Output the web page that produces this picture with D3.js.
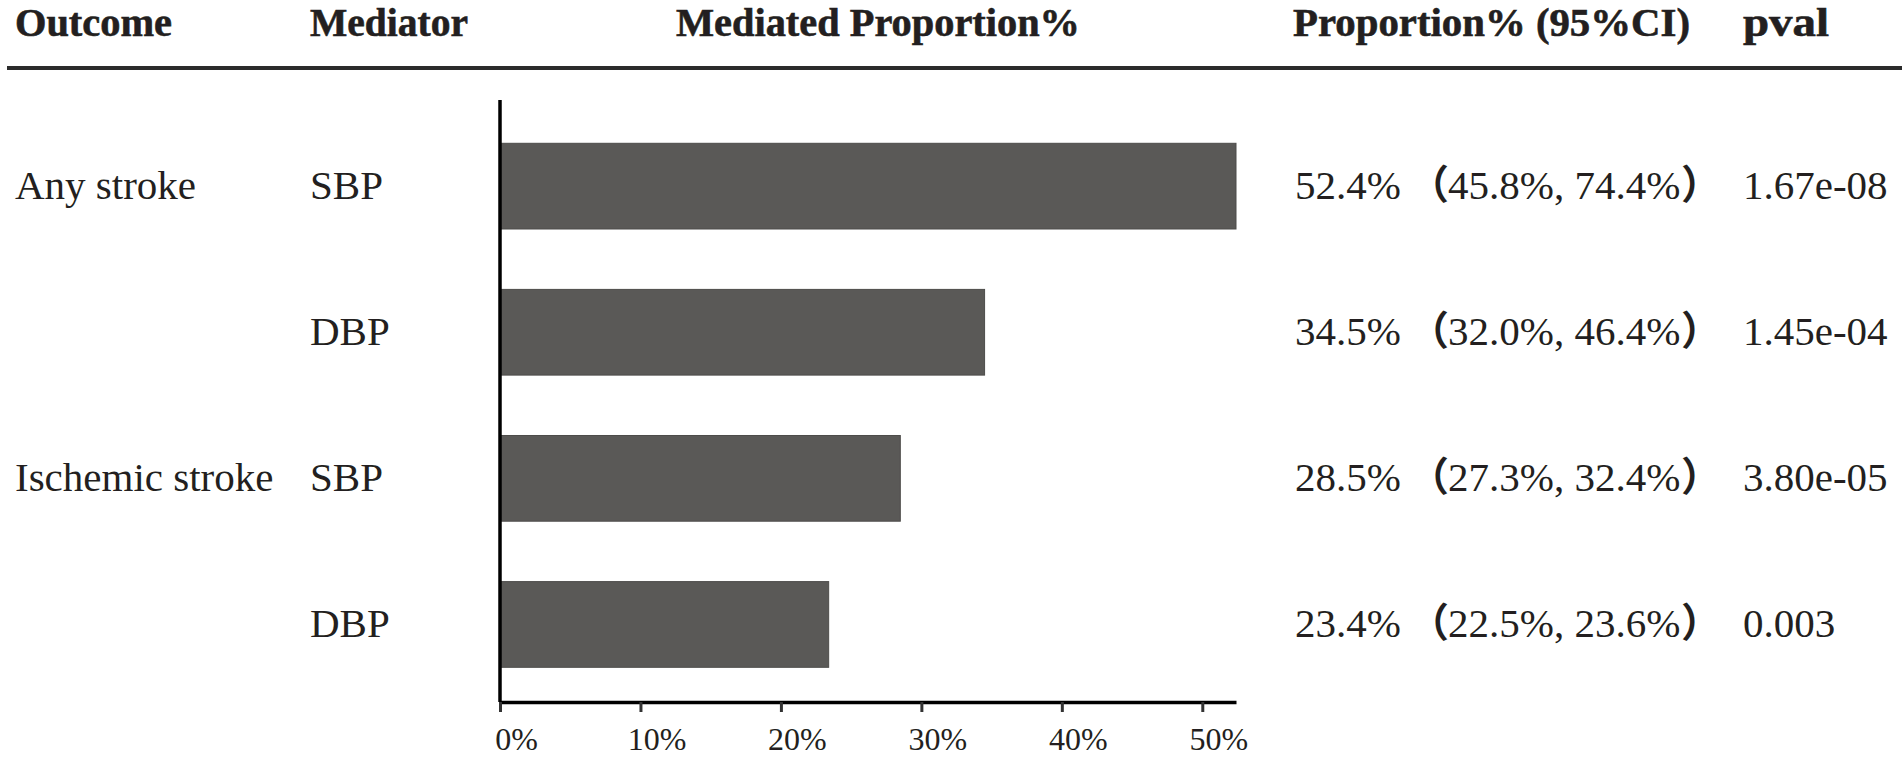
<!DOCTYPE html>
<html>
<head>
<meta charset="utf-8">
<script src="https://cdn.jsdelivr.net/npm/d3@7"></script>
<style>
  html, body { margin: 0; padding: 0; background: #fff; }
  svg { display: block; }
</style>
</head>
<body>
<svg id="chart" width="1902" height="757"></svg>
<script>
// ---- data ----
const outcomes    = ["Any stroke", "", "Ischemic stroke", ""];
const mediators   = ["SBP", "DBP", "SBP", "DBP"];
const proportions = [52.4, 34.5, 28.5, 23.4];
const ciLower     = [45.8, 32.0, 27.3, 22.5];
const ciUpper     = [74.4, 46.4, 32.4, 23.6];
const pvals       = ["1.67e-08", "1.45e-04", "3.80e-05", "0.003"];
const xTicks      = [0, 10, 20, 30, 40, 50];
const headers     = ["Outcome", "Mediator", "Mediated Proportion%", "Proportion% (95%CI)", "pval"];

// ---- layout ----
const W = 1902, H = 757;
const textColor = "#231f20";
const serif = "'Liberation Serif', 'Times New Roman', Times, serif";
const cjk = "'Noto Sans CJK SC'";
const svg = d3.select("#chart");

const rows = d3.range(proportions.length);
const x = d3.scaleLinear().domain([0, d3.max(proportions)]).range([500, 1236]);
const y = d3.scaleBand().domain(rows).range([113.1, 697.5]).paddingInner(0.4134).paddingOuter(0.2067);
const rowMid = i => y(i) + y.bandwidth() / 2;

// header
const headerX = [15, 310, 676, 1293, 1743];
const headerW = [157, 158, 404, 397, 86];
svg.append("g").selectAll("text").data(headers).join("text")
  .attr("x", (d, i) => headerX[i])
  .attr("y", 36)
  .attr("font-family", serif)
  .attr("font-weight", "bold")
  .attr("font-size", 40)
  .attr("textLength", (d, i) => headerW[i])
  .attr("lengthAdjust", "spacingAndGlyphs")
  .attr("fill", textColor)
  .attr("stroke", textColor)
  .attr("stroke-width", 0.6)
  .text(d => d);

svg.append("line")
  .attr("x1", 7).attr("x2", W).attr("y1", 68).attr("y2", 68)
  .attr("stroke", "#2b2b2b").attr("stroke-width", 4);

// bars
svg.append("g").selectAll("rect").data(proportions).join("rect")
  .attr("x", x(0))
  .attr("y", (d, i) => y(i))
  .attr("width", d => x(d) - x(0))
  .attr("height", y.bandwidth())
  .attr("fill", "#5a5957")
  .attr("stroke", "#4d4c4a")
  .attr("stroke-width", 1);

// y axis line
svg.append("line")
  .attr("x1", x(0)).attr("x2", x(0)).attr("y1", 100).attr("y2", 702)
  .attr("stroke", "#000").attr("stroke-width", 3.5);

// x axis
const xAxis = d3.axisBottom(x)
  .tickValues(xTicks)
  .tickFormat(d => d + "%")
  .tickSizeOuter(0)
  .tickSizeInner(10)
  .tickPadding(14);
const gx = svg.append("g").attr("transform", "translate(0,702)").call(xAxis);
gx.select(".domain").attr("stroke", "#000").attr("stroke-width", 3.5);
gx.selectAll(".tick line").attr("stroke", "#333").attr("stroke-width", 3);
gx.selectAll(".tick text")
  .attr("font-family", serif)
  .attr("font-size", 32)
  .attr("fill", textColor)
  .attr("dx", 16)
  .attr("dy", null)
  .attr("y", 48);

// row text
const bodySize = 41;
const rowText = (data, xpos) => svg.append("g").selectAll("text").data(data).join("text")
  .attr("x", xpos)
  .attr("y", (d, i) => rowMid(i) + 13)
  .attr("font-family", serif)
  .attr("font-size", bodySize)
  .attr("fill", textColor)
  .text(d => d);

rowText(outcomes, 15);
rowText(mediators, 310);
rowText(proportions.map(v => v.toFixed(1) + "%"), 1295);
rowText(pvals, 1743);

// CI text: full-width parentheses positioned by their ink box
const ctx = document.createElement("canvas").getContext("2d");
const parenFont = "bold 40px " + cjk;
ctx.font = parenFont;
const inkLeft = ch => { const m = ctx.measureText(ch); return -m.actualBoundingBoxLeft; };
const openInk = inkLeft("（"), closeInk = inkLeft("）");
const openGlyphX = 1435, numX = 1448, closeGlyphX = 1682;

const ci = svg.append("g").selectAll("text").data(rows).join("text")
  .attr("y", i => rowMid(i) + 13)
  .attr("font-family", serif)
  .attr("font-size", bodySize)
  .attr("fill", textColor);
ci.append("tspan").attr("x", openGlyphX - openInk)
  .attr("font-family", cjk).attr("font-weight", "bold").attr("font-size", 40).text("（");
ci.append("tspan").attr("x", numX)
  .text(i => ciLower[i].toFixed(1) + "%, " + ciUpper[i].toFixed(1) + "%");
ci.append("tspan").attr("x", closeGlyphX - closeInk)
  .attr("font-family", cjk).attr("font-weight", "bold").attr("font-size", 40).text("）");
</script>
</body>
</html>
